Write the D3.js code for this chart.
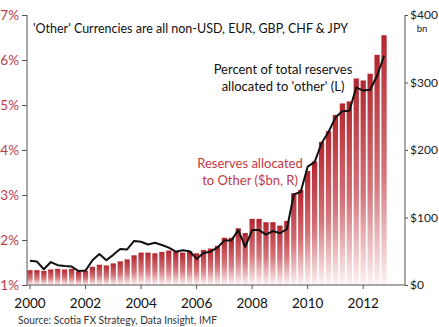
<!DOCTYPE html>
<html><head><meta charset="utf-8">
<script src="https://cdnjs.cloudflare.com/ajax/libs/d3/7.8.5/d3.min.js"></script>
<style>
body{margin:0;background:#fff;}
svg{display:block;font-family:Lato,"Open Sans",sans-serif;}
</style></head>
<body><svg id="c" width="439" height="327"></svg>
<script>
// ---- data ----
const years = [2000,2001,2002,2003,2004,2005,2006,2007,2008,2009,2010,2011,2012];
const quarters = ["Q1","Q2","Q3","Q4"];
const categories = years.flatMap(y => quarters.map(q => y + q));
// Reserves allocated to Other ($bn, right axis)
const reservesBn = [22,22,21,23,24,23,24,20,21,27,30,29,32,35,38,44,
  48,48,47,49,51,49,48,50,47,52,54,58,70,70,84,77,
  98,98,93,93,88,95,136,141,169,183,212,228,252,269,272,306,303,313,341,370];
// Percent of total reserves allocated to 'other' (left axis)
const pctOther = [1.54,1.52,1.35,1.51,1.44,1.42,1.41,1.31,1.32,1.55,1.69,1.55,1.67,1.80,1.79,1.98,
  1.96,1.90,1.94,1.89,1.83,1.74,1.77,1.75,1.58,1.71,1.74,1.83,1.99,1.99,2.22,1.85,
  2.22,2.22,2.12,2.20,2.15,2.24,3.01,3.07,3.63,3.73,4.15,4.40,4.72,4.86,4.87,5.39,5.32,5.34,5.65,6.09];
const leftTicks = [1,2,3,4,5,6,7];
const rightTicks = [0,100,200,300,400];
const xTickCats = ["2000Q1","2002Q1","2004Q1","2006Q1","2008Q1","2010Q1","2012Q1"];
const title = "'Other' Currencies are all non-USD, EUR, GBP, CHF & JPY";
const source = "Source: Scotia FX Strategy, Data Insight, IMF";
const noteLine = ["Percent of total reserves", "allocated to 'other' (L)"];
const noteBars = ["Reserves allocated", "to Other ($bn, R)"];

// ---- layout ----
const svg = d3.select("#c");
const pLeft = 27, pRight = 405, pTop = 15, pBottom = 285;
const red = "#b8404a";

const x = d3.scaleBand().domain(categories).range([26.5, 387.5]).paddingInner(0.24).paddingOuter(0.12);
const yL = d3.scaleLinear().domain([1,7]).range([pBottom, pTop]);
const yR = d3.scaleLinear().domain([0,400]).range([pBottom, pTop]);

const defs = svg.append("defs");
const g = defs.append("linearGradient").attr("id","barGrad").attr("x1",0).attr("y1",0).attr("x2",0).attr("y2",1);
g.append("stop").attr("offset","0%").attr("stop-color","#b3262e");
g.append("stop").attr("offset","55%").attr("stop-color","#d4747a");
g.append("stop").attr("offset","100%").attr("stop-color","#fdf3f3");

// bars
svg.append("g").selectAll("rect").data(reservesBn).join("rect")
  .attr("x",(d,i)=>x(categories[i]))
  .attr("width",x.bandwidth())
  .attr("y",d=>yR(d))
  .attr("height",d=>yR(0)-yR(d))
  .attr("fill","url(#barGrad)");

// line
svg.append("path").datum(pctOther)
  .attr("fill","none").attr("stroke","#111").attr("stroke-width",2).attr("stroke-linejoin","round")
  .attr("d", d3.line().x((d,i)=>x(categories[i])+x.bandwidth()/2).y(d=>yL(d)));

// axes
const axisColor = "#555";
const la = svg.append("g").attr("transform",`translate(${pLeft},0)`)
  .call(d3.axisLeft(yL).tickValues(leftTicks).tickFormat(d=>d+"%").tickSize(5).tickPadding(3));
la.select(".domain").remove();
la.selectAll("line").attr("stroke",axisColor);
la.selectAll("text").attr("fill",red).style("font-size","13.5px").style("font-family","Lato");
svg.append("line").attr("x1",pLeft).attr("x2",pLeft).attr("y1",pTop).attr("y2",pBottom).attr("stroke",axisColor);

const ra = svg.append("g").attr("transform",`translate(${pRight},0)`)
  .call(d3.axisRight(yR).tickValues(rightTicks).tickFormat(d=>"$"+d).tickSize(3).tickPadding(2));
ra.select(".domain").remove();
ra.selectAll("line").attr("stroke",axisColor);
ra.selectAll("text").attr("fill","#222").style("font-size","12px").style("font-family","Lato");
svg.append("line").attr("x1",pRight).attr("x2",pRight).attr("y1",pTop).attr("y2",pBottom).attr("stroke",axisColor);
svg.append("text").attr("x",422).attr("y",32).attr("text-anchor","middle").attr("fill","#222")
  .style("font-size","9.5px").text("bn");

const xa = svg.append("g").attr("transform",`translate(0,${pBottom})`)
  .call(d3.axisBottom(x).tickValues(xTickCats).tickFormat(d=>d.slice(0,4)).tickSize(4).tickPadding(9));
xa.select(".domain").remove();
xa.selectAll("line").attr("stroke",axisColor);
xa.selectAll("text").attr("fill","#111").style("font-size","13.5px").style("font-family","Lato");
svg.append("line").attr("x1",pLeft).attr("x2",pRight).attr("y1",pBottom).attr("y2",pBottom).attr("stroke",axisColor);

// texts
svg.append("text").attr("x",33).attr("y",33).attr("fill","#111").style("font-size","13.5px")
  .attr("textLength",315).attr("lengthAdjust","spacingAndGlyphs").text(title);
svg.append("text").attr("x",18).attr("y",324).attr("fill","#333").style("font-size","11px")
  .attr("textLength",199).attr("lengthAdjust","spacingAndGlyphs").text(source);

svg.append("g").selectAll("text").data(noteLine).join("text")
  .attr("x",283).attr("y",(d,i)=>74+i*17).attr("text-anchor","middle").attr("fill","#111")
  .style("font-size","13px").text(d=>d);
svg.append("g").selectAll("text").data(noteBars).join("text")
  .attr("x",250).attr("y",(d,i)=>168+i*17).attr("text-anchor","middle").attr("fill","#c0393f")
  .style("font-size","13px").text(d=>d);
</script></body></html>
